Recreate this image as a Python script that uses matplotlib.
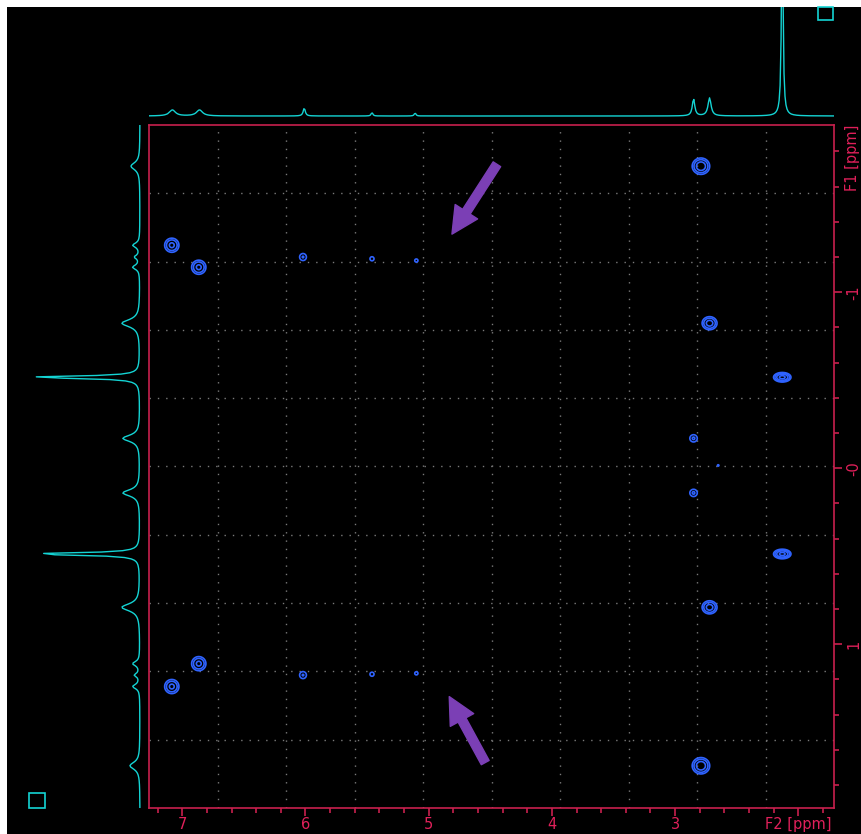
import numpy as np
import matplotlib
matplotlib.use("Agg")
import matplotlib.pyplot as plt
from matplotlib.patches import Rectangle

# cross peaks of the 2D map: F2 ppm, F1 ppm, amplitude, widths (ppm)
peak_f2 = [2.79, 7.085, 6.866, 6.02, 5.46, 5.10, 2.72, 2.13, 2.85, 2.65,
           2.85, 2.13, 2.72, 6.866, 7.085, 6.02, 5.46, 5.10, 2.79]
peak_f1 = [-1.716, -1.267, -1.142, -1.20, -1.19, -1.18, -0.824, -0.517, -0.17, -0.016,
           0.14, 0.487, 0.79, 1.11, 1.24, 1.175, 1.17, 1.165, 1.69]
peak_amp = [20, 12, 12, 3.2, 1.6, 1.4, 15, 40, 3.5, 1.15,
            3.5, 40, 15, 12, 12, 3.2, 1.6, 1.4, 20]
peak_sx = [0.029, 0.026, 0.026, 0.018, 0.017, 0.016, 0.026, 0.026, 0.019, 0.012,
           0.019, 0.026, 0.026, 0.026, 0.026, 0.018, 0.017, 0.016, 0.029]
peak_sy = [0.019, 0.018, 0.018, 0.013, 0.012, 0.011, 0.016, 0.010, 0.013, 0.008,
           0.013, 0.010, 0.016, 0.018, 0.018, 0.013, 0.012, 0.011, 0.019]
levels = [1, 3, 9, 27]

# F2 projection (top)
top_ppm = [7.08, 6.86, 6.01, 5.46, 5.11, 2.85, 2.72, 2.13]
top_h = [6, 6, 8, 3.5, 3, 17, 18, 220]
top_w = [0.03, 0.03, 0.01, 0.008, 0.008, 0.012, 0.015, 0.007]

# F1 projection (left)
left_ppm = [-1.716, -1.267, -1.20, -1.142, -0.824, -0.517, -0.17, 0.14,
            0.487, 0.79, 1.11, 1.175, 1.24, 1.69]
left_h = [9, 7, 5, 7, 18, 112, 17, 17, 112, 18, 7, 5, 7, 10]
left_w = [0.025, 0.015, 0.012, 0.015, 0.025, 0.008, 0.022, 0.022,
          0.008, 0.025, 0.015, 0.012, 0.015, 0.025]

f2_lim = (7.27, 1.71)
f1_lim = (1.93, -1.95)

red = "#e0205a"
cyan = "#14d4d4"
blue = "#2f63ff"
purple = "#7b3fb5"

W, H = 861, 834
fig = plt.figure(figsize=(W / 100, H / 100), dpi=100, facecolor="white")
fig.add_artist(Rectangle((7 / W, 0), 1 - 7 / W, 1 - 7 / H, transform=fig.transFigure,
                         facecolor="black", edgecolor="none", zorder=-10))

ax = fig.add_axes([149 / W, 26 / H, 685 / W, 683 / H])
ax.set_facecolor("black")

# 2D map
gx = np.linspace(f2_lim[1], f2_lim[0], 1400)
gy = np.linspace(f1_lim[1], f1_lim[0], 1400)
X, Y = np.meshgrid(gx, gy)
Z = np.zeros_like(X)
for x0, y0, a, sx, sy in zip(peak_f2, peak_f1, peak_amp, peak_sx, peak_sy):
    Z += a * np.exp(-((X - x0) ** 2 / (2 * sx ** 2) + (Y - y0) ** 2 / (2 * sy ** 2)))
ax.contour(X, Y, Z, levels=levels, colors=blue, linewidths=1.2)

ax.set_xlim(*f2_lim)
ax.set_ylim(*f1_lim)

# grid: 10 equal divisions
for v in np.linspace(f2_lim[0], f2_lim[1], 11)[1:-1]:
    ax.axvline(v, color="#7a7a7a", lw=1.0, ls=(0, (1, 5)), zorder=0)
for v in np.linspace(f1_lim[0], f1_lim[1], 11)[1:-1]:
    ax.axhline(v, color="#7a7a7a", lw=1.0, ls=(0, (1, 5)), zorder=0)

for s in ax.spines.values():
    s.set_color("#c8204e")
    s.set_linewidth(1.2)

ax.set_xticks([7, 6, 5, 4, 3, 2])
ax.set_xticklabels(["7", "6", "5", "4", "3", "F2 [ppm]"])
ax.set_xticks(np.arange(1.8, 7.3, 0.2), minor=True)
ax.yaxis.tick_right()
ax.set_yticks([-1, 0, 1])
ax.set_yticklabels(["-1", "-0", "1"], rotation=90, va="center")
ax.set_yticks(np.arange(-1.8, 1.9, 0.2), minor=True)
ax.tick_params(which="both", colors="#c8204e", labelcolor=red, labelsize=10.5, width=1.2)
ax.tick_params(which="major", length=6)
ax.tick_params(which="minor", length=3.5)
ax.tick_params(axis="x", pad=0.5)
ax.tick_params(axis="y", pad=3)
ax.annotate("F1 [ppm]", xy=(1, 1), xycoords="axes fraction", xytext=(8, 0),
            textcoords="offset points", rotation=90, ha="left", va="top",
            color=red, fontsize=10.5)

# arrows
arrow_style = "simple,head_length=1.2,head_width=1.2,tail_width=0.4"
ax.annotate("", xy=(4.811, -1.33), xytext=(4.446, -1.727),
            arrowprops=dict(arrowstyle=arrow_style, color=purple,
                            mutation_scale=16, shrinkA=0, shrinkB=0))
ax.annotate("", xy=(4.833, 1.297), xytext=(4.541, 1.672),
            arrowprops=dict(arrowstyle=arrow_style, color=purple,
                            mutation_scale=16, shrinkA=0, shrinkB=0))

# top projection
ax_top = fig.add_axes([149 / W, (H - 122) / H, 685 / W, 115 / H])
ax_top.set_facecolor("none")
px = np.linspace(f2_lim[1], f2_lim[0], 700)
spec = np.zeros_like(px)
for p, h, w in zip(top_ppm, top_h, top_w):
    spec += h / (1 + ((px - p) / w) ** 2)
ax_top.plot(px, spec, color=cyan, lw=1.0)
ax_top.set_xlim(*f2_lim)
ax_top.set_ylim(-6, 109)
ax_top.axis("off")

# left projection
ax_left = fig.add_axes([7 / W, 26 / H, 138 / W, 683 / H])
ax_left.set_facecolor("none")
py = np.linspace(f1_lim[1], f1_lim[0], 500)
spec1 = np.zeros_like(py)
for p, h, w in zip(left_ppm, left_h, left_w):
    spec1 += h / (1 + ((py - p) / w) ** 2)
ax_left.plot(spec1, py, color=cyan, lw=1.0)
ax_left.set_xlim(133, -5)
ax_left.set_ylim(*f1_lim)
ax_left.axis("off")

# corner boxes
fig.add_artist(Rectangle((818 / W, (H - 20) / H), 15 / W, 13 / H, transform=fig.transFigure,
                         facecolor="none", edgecolor=cyan, lw=1.2))
fig.add_artist(Rectangle((29 / W, 26 / H), 16 / W, 15 / H, transform=fig.transFigure,
                         facecolor="none", edgecolor=cyan, lw=1.2))

fig.savefig("out.png", dpi=100, facecolor="white")
